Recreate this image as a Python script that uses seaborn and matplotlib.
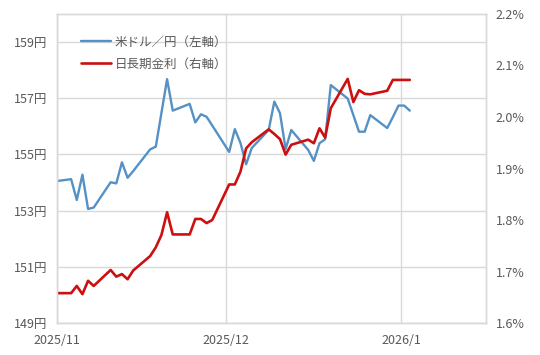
import pandas as pd
import seaborn as sns
import matplotlib.pyplot as plt

# Daily values (USD/JPY left axis, JGB 10y yield right axis)
dates = [
    "2025-10-31", "2025-11-03", "2025-11-04", "2025-11-05", "2025-11-06", "2025-11-07",
    "2025-11-10", "2025-11-11", "2025-11-12", "2025-11-13", "2025-11-14",
    "2025-11-17", "2025-11-18", "2025-11-19", "2025-11-20", "2025-11-21",
    "2025-11-24", "2025-11-25", "2025-11-26", "2025-11-27", "2025-11-28",
    "2025-12-01", "2025-12-02", "2025-12-03", "2025-12-04", "2025-12-05",
    "2025-12-08", "2025-12-09", "2025-12-10", "2025-12-11", "2025-12-12",
    "2025-12-15", "2025-12-16", "2025-12-17", "2025-12-18", "2025-12-19",
    "2025-12-22", "2025-12-23", "2025-12-24", "2025-12-25", "2025-12-26",
    "2025-12-29", "2025-12-30", "2025-12-31", "2026-01-01", "2026-01-02",
]
usdjpy = [
    154.04, 154.12, 153.38, 154.28, 153.06, 153.11,
    154.01, 153.97, 154.72, 154.17, 154.41,
    155.18, 155.28, 156.48, 157.68, 156.56,
    156.80, 156.14, 156.43, 156.34, 156.03,
    155.09, 155.90, 155.41, 154.65, 155.23,
    155.87, 156.88, 156.47, 155.19, 155.87,
    155.16, 154.77, 155.40, 155.54, 157.47,
    156.99, 156.40, 155.81, 155.81, 156.40,
    155.94, 156.33, 156.74, 156.74, 156.56,
]
jgb10y = [
    1.658, 1.658, 1.672, 1.656, 1.682, 1.672,
    1.703, 1.690, 1.695, 1.685, 1.702,
    1.730, 1.747, 1.771, 1.815, 1.772,
    1.772, 1.802, 1.802, 1.794, 1.800,
    1.869, 1.869, 1.894, 1.939, 1.951,
    1.976, 1.967, 1.957, 1.927, 1.946,
    1.956, 1.949, 1.978, 1.960, 2.017,
    2.074, 2.029, 2.052, 2.045, 2.044,
    2.051, 2.072, 2.072, 2.072, 2.072,
]

left_ticks = [149, 151, 153, 155, 157, 159]
left_labels = ["149円", "151円", "153円", "155円", "157円", "159円"]
right_ticks = [1.6, 1.7, 1.8, 1.9, 2.0, 2.1, 2.2]
right_labels = ["1.6%", "1.7%", "1.8%", "1.9%", "2.0%", "2.1%", "2.2%"]
month_ticks = ["2025-11-01", "2025-12-01", "2026-01-01"]
month_labels = ["2025/11", "2025/12", "2026/1"]

df = pd.DataFrame({"date": pd.to_datetime(dates), "usdjpy": usdjpy, "jgb": jgb10y})
# Excel date axis puts points in the middle of each day
df["x"] = df["date"] + pd.Timedelta(hours=12)

sns.set_style("white")
plt.rcParams["font.family"] = ["Noto Sans CJK JP", "DejaVu Sans"]
text_col = "#595959"
grid_col = "#d9d9d9"

fig, ax = plt.subplots(figsize=(5.4, 3.55), dpi=100)
fig.subplots_adjust(left=0.1056, right=0.9, top=0.9606, bottom=0.0901)
ax2 = ax.twinx()

sns.lineplot(data=df, x="x", y="usdjpy", ax=ax, color="#5591c4", linewidth=1.7,
             label="米ドル／円（左軸）", legend=False)
sns.lineplot(data=df, x="x", y="jgb", ax=ax2, color="#cc1010", linewidth=1.9,
             label="日長期金利（右軸）", legend=False)

ax.set_xlim(pd.Timestamp("2025-11-01"), pd.Timestamp("2026-01-16"))
ax.set_ylim(149, 160)
ax2.set_ylim(1.6, 2.2)

ax.set_yticks(left_ticks)
ax.set_yticklabels(left_labels)
ax2.set_yticks(right_ticks)
ax2.set_yticklabels(right_labels)
ax.set_xticks(pd.to_datetime(month_ticks))
ax.set_xticklabels(month_labels)

ax.grid(True, color=grid_col, linewidth=1)
ax2.grid(False)
ax.set_axisbelow(True)
for a in (ax, ax2):
    a.set_xlabel("")
    a.set_ylabel("")
    a.tick_params(length=0, pad=7, labelsize=9, colors=text_col)
    for s in a.spines.values():
        s.set_color(grid_col)
        s.set_linewidth(1)
ax.tick_params(axis="x", pad=8)

h1, l1 = ax.get_legend_handles_labels()
h2, l2 = ax2.get_legend_handles_labels()
ax2.legend(h1 + h2, l1 + l2, loc="upper left", bbox_to_anchor=(0.055, 0.93),
           frameon=False, fontsize=9, handlelength=2.4, handletextpad=0.35,
           labelspacing=0.7, borderpad=0, borderaxespad=0, labelcolor=text_col)

plt.savefig("out.png", dpi=100)
